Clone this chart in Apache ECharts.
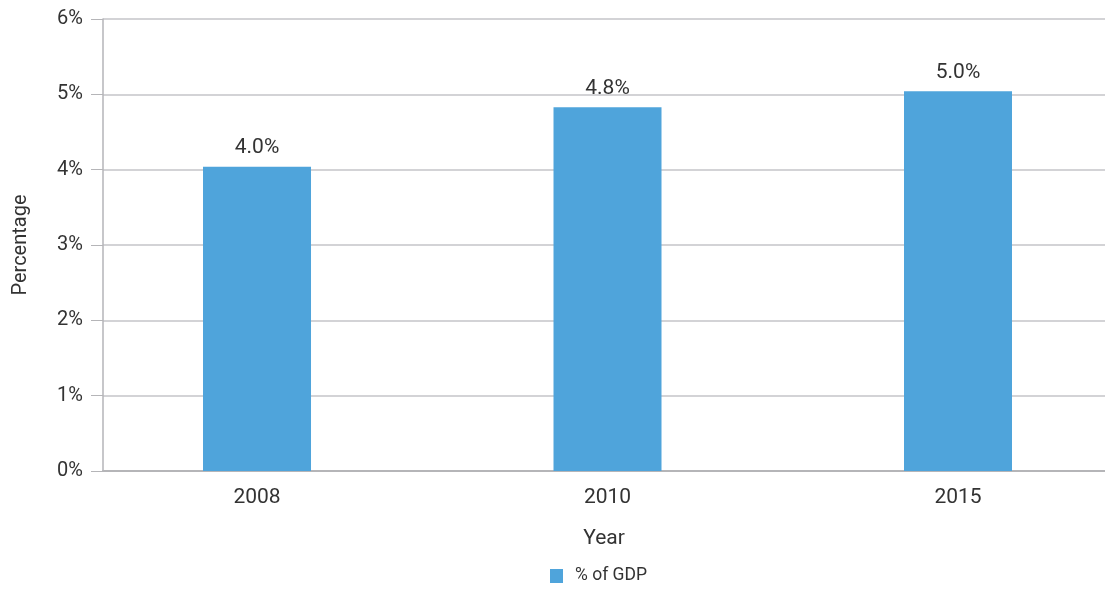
<!DOCTYPE html>
<html><head><meta charset="utf-8">
<script src="https://cdn.jsdelivr.net/npm/echarts@6/dist/echarts.min.js"></script>
<style>html,body{margin:0;padding:0;background:#fff}#c{width:1105px;height:590px}</style>
</head><body><div id="c"></div>
<script>
const categories = ['2008', '2010', '2015'];
const gdpShare = [4.04, 4.83, 5.04];
const yTicks = [0, 1, 2, 3, 4, 5, 6];
const seriesName = '% of GDP';
const chart = echarts.init(document.getElementById('c'), null, {renderer: 'canvas'});
chart.setOption({
  animation: false,
  textStyle: {fontFamily: 'Roboto'},
  grid: {left: 103, right: 0, top: 19, bottom: 119, containLabel: false, outerBoundsMode: 'none'},
  legend: {
    top: 567, left: 550, itemWidth: 13, itemHeight: 14, padding: 0,
    icon: 'rect',
    textStyle: {fontFamily: 'Roboto', fontSize: 17.5, color: '#333', padding: [0, 0, 0, 7]},
    data: [seriesName]
  },
  xAxis: {
    type: 'value', min: -0.4394, max: 2.4194,
    name: 'Year', nameLocation: 'middle', nameGap: 57,
    nameTextStyle: {fontFamily: 'Roboto', fontSize: 21, color: '#333'},
    axisLine: {show: true, onZero: false, lineStyle: {color: '#b5b5b8', width: 2}},
    axisTick: {show: false},
    splitLine: {show: false},
    axisLabel: {fontFamily: 'Roboto', fontSize: 21, color: '#333', margin: 16,
      customValues: categories.map((c, i) => i),
      formatter: v => categories[Math.round(v)]}
  },
  yAxis: {
    type: 'value', min: yTicks[0], max: yTicks[yTicks.length - 1], interval: 1,
    name: 'Percentage', nameLocation: 'middle', nameGap: 72,
    nameTextStyle: {fontFamily: 'Roboto', fontSize: 20, color: '#333'},
    axisLine: {show: true, onZero: false, lineStyle: {color: '#b5b5b8', width: 1.5}},
    axisTick: {show: true, length: 12, lineStyle: {color: '#b5b5b8'}},
    axisLabel: {fontFamily: 'Roboto', fontSize: 20, color: '#333', margin: 20, formatter: v => v + '%'},
    splitLine: {lineStyle: {color: '#c4c4c8', width: 1.5}}
  },
  series: [{
    name: seriesName, type: 'bar', data: gdpShare.map((v, i) => [i, v]), barWidth: 108,
    itemStyle: {color: '#4fa4db'},
    label: {show: true, position: 'top', distance: 8, fontFamily: 'Roboto', fontSize: 21, color: '#333',
      formatter: p => p.value[1].toFixed(1) + '%'}
  }]
});
</script></body></html>
